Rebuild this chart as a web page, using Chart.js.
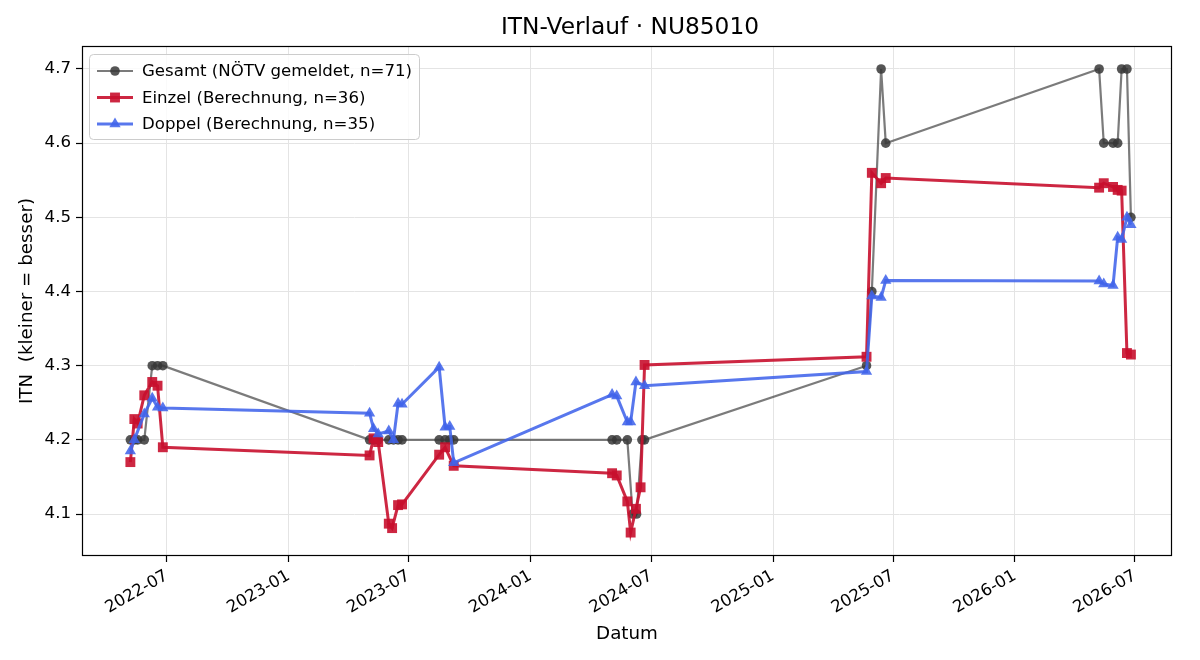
<!DOCTYPE html>
<html><head><meta charset="utf-8">
<script src="https://cdn.jsdelivr.net/npm/chart.js@4.4.1/dist/chart.umd.min.js"></script>
<style>html,body{margin:0;padding:0;background:#fff}</style>
</head><body>
<canvas id="c" width="1200" height="660" style="width:1200px;height:660px;display:block"></canvas>
<script>
const chartTitle = 'ITN-Verlauf · NU85010';
const xAxisTitle = 'Datum';
const yAxisTitle = 'ITN  (kleiner = besser)';
const seriesNames = ['Gesamt (NÖTV gemeldet, n=71)', 'Einzel (Berechnung, n=36)', 'Doppel (Berechnung, n=35)'];

const gesamtDates = ['2022-05-07','2022-05-13','2022-05-18','2022-05-28','2022-06-09','2022-06-17','2022-06-25',
  '2023-05-03','2023-05-09','2023-05-16','2023-06-01','2023-06-08','2023-06-15','2023-06-21','2023-08-16','2023-08-25','2023-09-01','2023-09-07',
  '2024-05-03','2024-05-10','2024-05-26','2024-06-03','2024-06-09','2024-06-17','2024-06-21',
  '2025-05-22','2025-05-30','2025-06-13','2025-06-20',
  '2026-05-08','2026-05-15','2026-05-29','2026-06-05','2026-06-11','2026-06-19','2026-06-25'];
const gesamtValues = [4.2,4.2,4.2,4.2,4.3,4.3,4.3,
  4.2,4.2,4.2,4.2,4.2,4.2,4.2,4.2,4.2,4.2,4.2,
  4.2,4.2,4.2,4.1,4.1,4.2,4.2,
  4.3,4.4,4.7,4.6,
  4.7,4.6,4.6,4.6,4.7,4.7,4.5];

const einzelDates = ['2022-05-07','2022-05-13','2022-05-18','2022-05-28','2022-06-09','2022-06-17','2022-06-25',
  '2023-05-03','2023-05-09','2023-05-16','2023-06-01','2023-06-06','2023-06-15','2023-06-21','2023-08-16','2023-08-25','2023-09-07',
  '2024-05-03','2024-05-10','2024-05-26','2024-05-31','2024-06-08','2024-06-15','2024-06-21',
  '2025-05-22','2025-05-30','2025-06-13','2025-06-20',
  '2026-05-08','2026-05-15','2026-05-29','2026-06-05','2026-06-11','2026-06-19','2026-06-25'];
const einzelValues = [4.17,4.228,4.222,4.26,4.278,4.273,4.19,
  4.179,4.202,4.197,4.087,4.081,4.112,4.113,4.18,4.19,4.165,
  4.155,4.152,4.117,4.075,4.107,4.136,4.301,
  4.312,4.56,4.546,4.553,
  4.54,4.546,4.541,4.537,4.536,4.317,4.315];

const doppelDates = ['2022-05-07','2022-05-13','2022-05-28','2022-06-09','2022-06-17','2022-06-25',
  '2023-05-03','2023-05-09','2023-05-16','2023-06-01','2023-06-08','2023-06-15','2023-06-21','2023-08-16','2023-08-25','2023-09-01','2023-09-07',
  '2024-05-03','2024-05-10','2024-05-26','2024-05-31','2024-06-08','2024-06-21',
  '2025-05-22','2025-05-30','2025-06-13','2025-06-20',
  '2026-05-08','2026-05-15','2026-05-29','2026-06-05','2026-06-11','2026-06-19','2026-06-25'];
const doppelValues = [4.185,4.2,4.235,4.256,4.244,4.243,
  4.236,4.215,4.208,4.212,4.2,4.249,4.248,4.298,4.217,4.218,4.169,
  4.261,4.259,4.224,4.224,4.278,4.273,
  4.292,4.394,4.392,4.415,
  4.414,4.41,4.408,4.473,4.47,4.5,4.49];

const xTickLabels = ['2022-07','2023-01','2023-07','2024-01','2024-07','2025-01','2025-07','2026-01','2026-07'];
const yTickValues = [4.1,4.2,4.3,4.4,4.5,4.6,4.7];
const xRange = ['2022-02-23','2026-08-26'];
const yRange = [4.0434, 4.731];

const FONT = "'DejaVu Sans', sans-serif";
const colors = {
  gesamtLine: 'rgba(60,60,60,0.68)', gesamtPoint: 'rgba(55,55,55,0.85)',
  einzel: 'rgba(200,16,46,0.9)', doppel: 'rgba(65,100,235,0.88)'
};

const toPts = (dates, vals) => dates.map((d, i) => ({x: Date.parse(d), y: vals[i]}));

const mplFrame = {
  id: 'mplFrame',
  afterDatasetsDraw(chart) {
    const {ctx, chartArea: a} = chart;
    ctx.save();
    ctx.strokeStyle = '#000'; ctx.lineWidth = 1.2;
    ctx.strokeRect(a.left + 0.5, a.top + 0.5, a.right - a.left - 1, a.bottom - a.top - 1);
    ctx.restore();
  }
};

const mplTitle = {
  id: 'mplTitle',
  afterDraw(chart) {
    const {ctx, chartArea: a} = chart;
    ctx.save();
    ctx.fillStyle = '#000';
    ctx.font = '23.3px ' + FONT;
    ctx.textAlign = 'center'; ctx.textBaseline = 'middle';
    ctx.fillText(chartTitle, (a.left + a.right) / 2 + 3, 28);
    ctx.restore();
  }
};

const mplLegend = {
  id: 'mplLegend',
  afterDraw(chart) {
    const {ctx, chartArea: a} = chart;
    const x0 = a.left + 7, y0 = a.top + 8, w = 330, h = 85;
    ctx.save();
    ctx.beginPath();
    if (ctx.roundRect) ctx.roundRect(x0 + 0.5, y0 + 0.5, w, h, 4); else ctx.rect(x0 + 0.5, y0 + 0.5, w, h);
    ctx.fillStyle = 'rgba(255,255,255,0.8)'; ctx.fill();
    ctx.strokeStyle = '#cccccc'; ctx.lineWidth = 1; ctx.stroke();
    const items = chart.data.datasets;
    items.forEach((ds, i) => {
      const cy = y0 + 17 + i * 26.5;
      ctx.beginPath();
      ctx.strokeStyle = ds.borderColor; ctx.lineWidth = ds.borderWidth;
      ctx.moveTo(x0 + 8, cy); ctx.lineTo(x0 + 44, cy); ctx.stroke();
      ctx.fillStyle = ds.pointBackgroundColor; ctx.strokeStyle = ds.pointBorderColor;
      Chart.helpers.drawPoint(ctx, {pointStyle: ds.pointStyle, radius: ds.pointRadius, rotation: 0, borderWidth: 0}, x0 + 26, cy);
      ctx.fillStyle = '#000';
      ctx.font = '16.6px ' + FONT;
      ctx.textAlign = 'left'; ctx.textBaseline = 'middle';
      ctx.fillText(ds.label, x0 + 53, cy + 1);
    });
    ctx.restore();
  }
};

new Chart(document.getElementById('c'), {
  type: 'line',
  data: {
    datasets: [
      {label: seriesNames[0], data: toPts(gesamtDates, gesamtValues), borderColor: colors.gesamtLine, borderWidth: 2.2,
       pointStyle: 'circle', pointRadius: 4.8, pointBackgroundColor: colors.gesamtPoint, pointBorderColor: colors.gesamtPoint, pointBorderWidth: 0, order: 3},
      {label: seriesNames[1], data: toPts(einzelDates, einzelValues), borderColor: colors.einzel, borderWidth: 3,
       pointStyle: 'rect', pointRadius: 7, pointBackgroundColor: colors.einzel, pointBorderColor: colors.einzel, pointBorderWidth: 0, order: 2},
      {label: seriesNames[2], data: toPts(doppelDates, doppelValues), borderColor: colors.doppel, borderWidth: 3,
       pointStyle: 'triangle', pointRadius: 6.5, pointBackgroundColor: colors.doppel, pointBorderColor: colors.doppel, pointBorderWidth: 0, order: 1}
    ]
  },
  options: {
    responsive: false, animation: false, devicePixelRatio: 1,
    layout: {padding: {left: 0, right: 28, top: 46, bottom: 0}},
    plugins: {legend: {display: false}, title: {display: false}, tooltip: {enabled: false}},
    elements: {line: {tension: 0}},
    scales: {
      x: {
        type: 'linear', min: Date.parse(xRange[0]), max: Date.parse(xRange[1]),
        afterFit(s) { s.height = 104; },
        afterBuildTicks(s) { s.ticks = xTickLabels.map(l => ({value: Date.parse(l + '-01')})); },
        ticks: {
          autoSkip: false, minRotation: 30, maxRotation: 30, padding: 4, color: '#000',
          font: {family: FONT, size: 16.6},
          callback(v) { const d = new Date(v); return d.getUTCFullYear() + '-' + String(d.getUTCMonth() + 1).padStart(2, '0'); }
        },
        grid: {color: '#e4e4e4', lineWidth: 1, tickColor: '#000', tickLength: 6, tickWidth: 1.2},
        border: {display: false},
        title: {display: true, text: xAxisTitle, color: '#000', font: {family: FONT, size: 18.3}, padding: {top: 0, bottom: 15}}
      },
      y: {
        type: 'linear', min: yRange[0], max: yRange[1],
        afterFit(s) { s.width = 82; },
        afterBuildTicks(s) { s.ticks = yTickValues.map(v => ({value: v})); },
        ticks: {padding: 5, color: '#000', font: {family: FONT, size: 16.6}, callback(v) { return v.toFixed(1); }},
        grid: {color: '#e4e4e4', lineWidth: 1, tickColor: '#000', tickLength: 6, tickWidth: 1.2},
        border: {display: false},
        title: {display: true, text: yAxisTitle, color: '#000', font: {family: FONT, size: 18.3}, padding: {top: 16, bottom: 0}}
      }
    }
  },
  plugins: [mplFrame, mplLegend, mplTitle]
});
</script>
</body></html>
